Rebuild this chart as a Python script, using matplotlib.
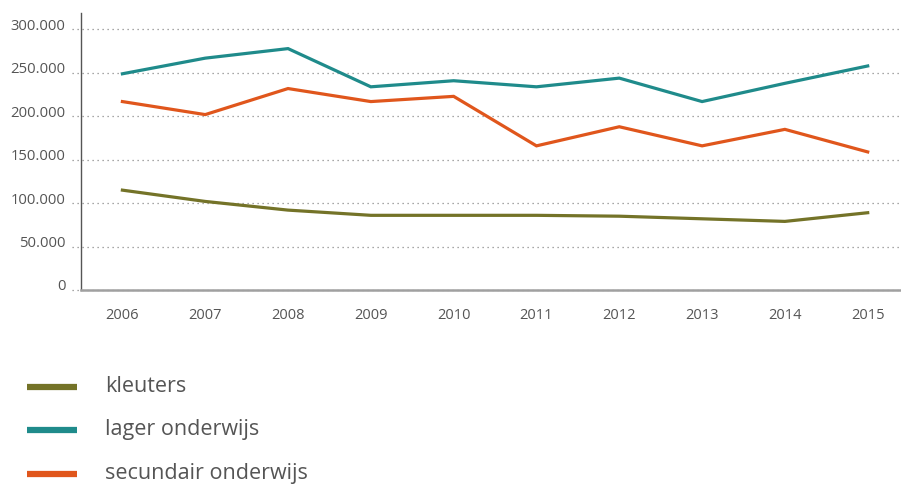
import matplotlib.pyplot as plt
from matplotlib.lines import Line2D
from matplotlib.transforms import ScaledTranslation

# data
years = [2006, 2007, 2008, 2009, 2010, 2011, 2012, 2013, 2014, 2015]
kleuters = [115000, 102000, 92000, 86000, 86000, 86000, 85000, 82000, 79000, 89000]
lager = [249000, 267000, 278000, 234000, 241000, 234000, 244000, 217000, 238000, 258000]
secundair = [217000, 202000, 232000, 217000, 223000, 166000, 188000, 166000, 185000, 159000]
series_names = ['kleuters', 'lager onderwijs', 'secundair onderwijs']
yticks = [0, 50000, 100000, 150000, 200000, 250000, 300000]
ytick_labels = ['0', '50.000', '100.000', '150.000', '200.000', '250.000', '300.000']

colors = ['#747328', '#1f8b8b', '#e0561c']
text_color = '#555555'

plt.rcParams['font.family'] = ['Open Sans', 'DejaVu Sans']

fig = plt.figure(figsize=(9.01, 4.84), dpi=100)
W, H = 901, 484
ax = fig.add_axes([81 / W, 1 - 290 / H, (900 - 81) / W, (290 - 13) / H])

for vals, c in zip([kleuters, lager, secundair], colors):
    ax.plot(years, vals, color=c, lw=2.3, solid_joinstyle='miter', zorder=3)

ax.set_xlim(2005.5, 2015.39)
ax.set_ylim(0, 319000)

# dotted gridlines running a bit left of the axis
for yv in yticks:
    ax.plot([-9 / (900 - 81), 1], [yv, yv], transform=ax.get_yaxis_transform(),
            color='#8a8a8a', lw=0.9, ls=(0, (1, 3)), clip_on=False, zorder=1)

ax.set_yticks(yticks)
ax.set_yticklabels(ytick_labels)
ax.set_xticks(years)
ax.set_xticklabels([str(y) for y in years])
ax.tick_params(axis='y', length=0, pad=11, labelsize=10.7, labelcolor=text_color)
ax.tick_params(axis='x', length=0, pad=13, labelsize=10.5, labelcolor=text_color)

# y labels sit slightly above their gridline
shift = ScaledTranslation(0, 0.05, fig.dpi_scale_trans)
for lab in ax.get_yticklabels():
    lab.set_transform(lab.get_transform() + shift)

for s in ['top', 'right']:
    ax.spines[s].set_visible(False)
ax.spines['left'].set_color('#555555')
ax.spines['left'].set_linewidth(1.0)
ax.spines['bottom'].set_color('#a0a0a0')
ax.spines['bottom'].set_linewidth(1.8)

# legend below the chart
leg_y = [386.5, 430, 473.5]
for name, c, yy in zip(series_names, colors, leg_y):
    fig.add_artist(Line2D([27 / W, 77 / W], [1 - yy / H, 1 - yy / H],
                          color=c, lw=4.5, solid_capstyle='butt'))
    fig.text(105 / W, 1 - yy / H, name, fontsize=15.5, color=text_color,
             va='center', ha='left')

fig.savefig('out.png', dpi=100)
